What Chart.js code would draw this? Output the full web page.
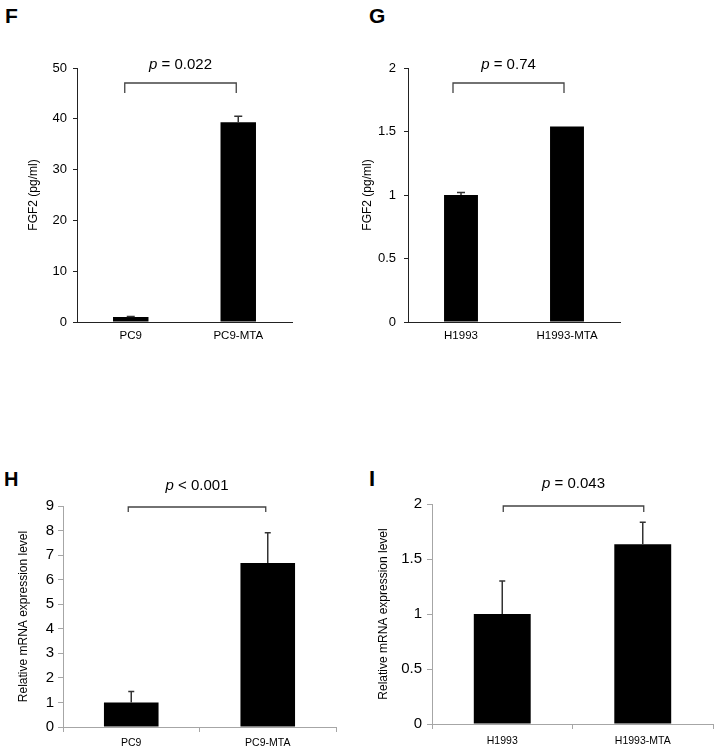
<!DOCTYPE html>
<html><head><meta charset="utf-8">
<script src="https://cdn.jsdelivr.net/npm/chart.js@4/dist/chart.umd.min.js"></script>
<style>
body{margin:0;background:#fff;width:720px;height:752px;position:relative;overflow:hidden;font-family:'Liberation Sans',Arial,sans-serif}
canvas{position:absolute}
.lt{position:absolute;font-weight:bold;color:#000;line-height:1}
</style></head><body>
<div class="lt" style="left:5px;top:5px;font-size:21px">F</div>
<div class="lt" style="left:369px;top:5px;font-size:21px">G</div>
<div class="lt" style="left:4px;top:469px;font-size:20px">H</div>
<div class="lt" style="left:369px;top:468px;font-size:22px">I</div>
<canvas id="cF" width="360" height="376" style="left:0;top:0"></canvas>
<canvas id="cG" width="360" height="376" style="left:360px;top:0"></canvas>
<canvas id="cH" width="360" height="376" style="left:0;top:376px"></canvas>
<canvas id="cI" width="360" height="376" style="left:360px;top:376px"></canvas>
<script>
// panel F / G : FGF2 protein
const labelsF=['PC9','PC9-MTA']
const valuesF=[1.0,39.3]
const errorsF=[0.1,1.2]
const pF='= 0.022'
const labelsG=['H1993','H1993-MTA']
const valuesG=[1.0,1.54]
const errorsG=[0.02,0]
const pG='= 0.74'
// panel H / I : relative mRNA
const labelsH=['PC9','PC9-MTA']
const valuesH=[1.0,6.68]
const errorsH=[0.45,1.23]
const pH='< 0.001'
const labelsI=['H1993','H1993-MTA']
const valuesI=[1.0,1.635]
const errorsI=[0.30,0.20]
const pI='= 0.043'

const FONT="'Liberation Sans', Arial, sans-serif"

const extras={
id:'extras',
afterDatasetsDraw(chart,args,o){
const ctx=chart.ctx,y=chart.scales.y,bars=chart.getDatasetMeta(0).data,a=chart.chartArea
ctx.save()
// error bars
ctx.strokeStyle=o.errColor;ctx.lineWidth=1.5
o.errors.forEach((e,i)=>{
if(!e)return
const b=bars[i],v=chart.data.datasets[0].data[i]
const y0=y.getPixelForValue(v),y1=y.getPixelForValue(v+e)
ctx.beginPath()
ctx.moveTo(b.x,y0);ctx.lineTo(b.x,y1)
ctx.moveTo(b.x-o.cap,y1);ctx.lineTo(b.x+o.cap,y1)
ctx.stroke()
})
// bracket
const by=a.top+o.brY,x0=bars[0].x+o.brDx[0],x1=bars[1].x+o.brDx[1]
ctx.strokeStyle='#444';ctx.lineWidth=1.3
ctx.beginPath()
ctx.moveTo(x0,by+o.brTick);ctx.lineTo(x0,by);ctx.lineTo(x1,by);ctx.lineTo(x1,by+o.brTick)
ctx.stroke()
// p value
ctx.fillStyle='#000';ctx.textBaseline='middle';ctx.textAlign='left'
ctx.font='italic 15px '+FONT
const wp=ctx.measureText('p').width
ctx.font='15px '+FONT
const rest=' '+o.p
const wr=ctx.measureText(rest).width
const cx=(x0+x1)/2+o.pDx,ty=a.top+o.pY
let sx=cx-(wp+wr)/2
ctx.font='italic 15px '+FONT
ctx.fillText('p',sx,ty)
ctx.font='15px '+FONT
ctx.fillText(rest,sx+wp,ty)
ctx.restore()
}
}

function panel(id,labels,values,errors,p,s){
return new Chart(document.getElementById(id),{
type:'bar',
data:{labels:labels,datasets:[{data:values,backgroundColor:'#000',borderWidth:0,barPercentage:s.bar,categoryPercentage:1}]},
options:{
responsive:false,animation:false,
layout:{padding:{left:0,top:s.top,right:s.right,bottom:0}},
plugins:{legend:{display:false},tooltip:{enabled:false},
extras:{errors:errors,p:p,errColor:s.errColor,cap:s.cap,brY:s.brY,brTick:s.brTick,brDx:s.brDx,pY:s.pY,pDx:s.pDx}},
scales:{
x:{
afterFit(sc){sc.height=s.xh},
grid:{display:s.xTicks,drawOnChartArea:false,drawTicks:s.xTicks,tickLength:5,color:s.axis,offset:true},
border:{display:true,color:s.axis,width:1},
ticks:{color:'#000',padding:s.xPad,font:{family:FONT,size:s.xFont},maxRotation:0}
},
y:{
min:0,max:s.max,
afterFit(sc){sc.width=s.yw},
grid:{drawOnChartArea:false,drawTicks:true,tickLength:s.tl,color:s.axis},
border:{display:true,color:s.axis,width:1},
ticks:{stepSize:s.step,color:'#000',padding:s.yPad,font:{family:FONT,size:s.yFont},callback:v=>String(v)},
title:{display:true,text:s.title,color:'#000',font:{family:FONT,size:12},padding:{top:s.tPad,bottom:0}}
}
}
},
plugins:[extras]
})
}

panel('cF',labelsF,valuesF,errorsF,pF,{bar:0.33,top:68,right:68,xh:54,yw:77,max:50,step:10,axis:'#222',xTicks:false,xPad:7,xFont:11.5,tl:4,yPad:6,yFont:13,
title:'FGF2 (pg/ml)',tPad:26,errColor:'#333',cap:4,brY:15,brTick:10,brDx:[-6,-2],pY:-3,pDx:0})
panel('cG',labelsG,valuesG,errorsG,pG,{bar:0.32,top:68,right:100,xh:54,yw:48,max:2,step:0.5,axis:'#222',xTicks:false,xPad:7,xFont:11.5,tl:4,yPad:8,yFont:13,
title:'FGF2 (pg/ml)',tPad:0,errColor:'#333',cap:4,brY:15,brTick:10,brDx:[-8,-3],pY:-3,pDx:0})
panel('cH',labelsH,valuesH,errorsH,pH,{bar:0.40,top:130,right:24,xh:25,yw:63,max:9,step:1,axis:'#a6a6a6',xTicks:true,xPad:5,xFont:10.5,tl:5,yPad:4,yFont:15,
title:'Relative mRNA expression level',tPad:16,errColor:'#333',cap:3,brY:1,brTick:5,brDx:[-3,-2],pY:-20,pDx:0})
panel('cI',labelsI,valuesI,errorsI,pI,{bar:0.405,top:128,right:7,xh:28,yw:72,max:2,step:0.5,axis:'#a6a6a6',xTicks:true,xPad:6,xFont:10.5,tl:5,yPad:5,yFont:15,
title:'Relative mRNA expression level',tPad:16,errColor:'#333',cap:3,brY:2,brTick:6,brDx:[1,1],pY:-20,pDx:0})
</script>
</body></html>
